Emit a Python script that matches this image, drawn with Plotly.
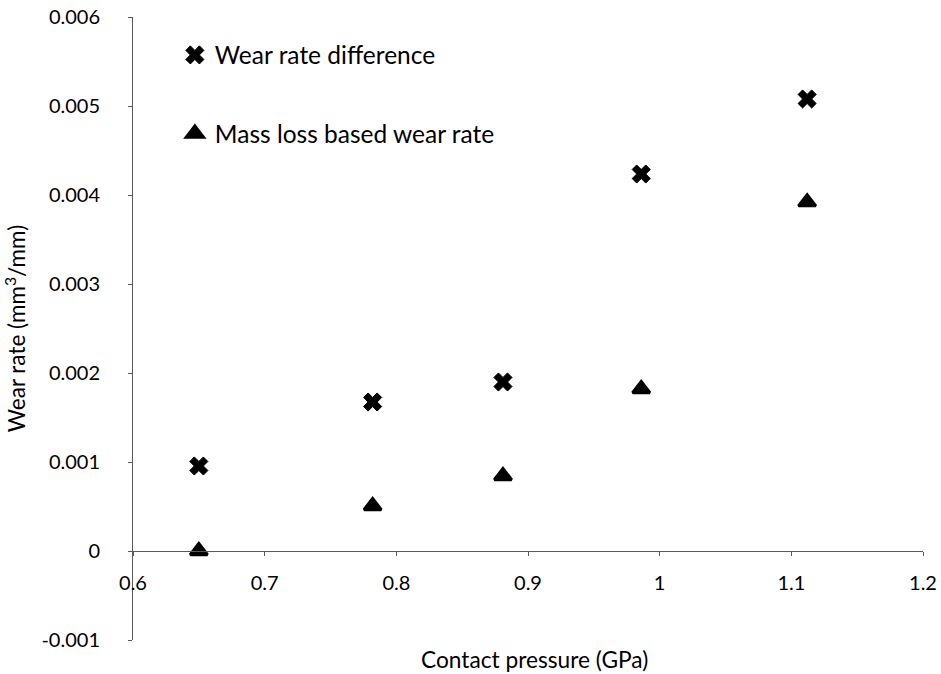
import plotly.graph_objects as go

# Contact pressure (GPa)
pressure = [0.65, 0.782, 0.881, 0.986, 1.112]

# Wear rates (mm^3/mm)
wear_rate_difference = [0.000955, 0.001674, 0.001899, 0.004236, 0.005079]
mass_loss_wear_rate = [0.0, 0.000506, 0.000843, 0.00182, 0.00392]

x_ticks = [0.6, 0.7, 0.8, 0.9, 1.0, 1.1, 1.2]
x_tick_text = ["0.6", "0.7", "0.8", "0.9", "1", "1.1", "1.2"]
y_ticks = [-0.001, 0, 0.001, 0.002, 0.003, 0.004, 0.005, 0.006]
y_tick_text = ["-0.001", "0", "0.001", "0.002", "0.003", "0.004", "0.005", "0.006"]

FONT = "Lato, 'Open Sans', sans-serif"
AXIS_COLOR = "#5a5a5a"
Y_MIN, Y_MAX = -0.001, 0.006

fig = go.Figure()

fig.add_trace(go.Scatter(
    x=pressure, y=wear_rate_difference,
    mode="markers",
    name="Wear rate difference",
    marker=dict(symbol="x", size=16, color="black",
                line=dict(color="black", width=1)),
    legend="legend",
    showlegend=True,
))

fig.add_trace(go.Scatter(
    x=pressure, y=mass_loss_wear_rate,
    mode="markers",
    name="Mass loss based wear rate",
    marker=dict(symbol="triangle-up", size=15, color="black",
                line=dict(color="black", width=3)),
    legend="legend2",
    showlegend=True,
))

legend_style = dict(
    font=dict(family=FONT, size=24.5, color="black"),
    bgcolor="rgba(0,0,0,0)",
    borderwidth=0,
    xanchor="left", yanchor="middle",
    itemsizing="trace",
    visible=True,
)

fig.update_layout(
    width=941, height=674,
    margin=dict(l=133, r=18, t=17, b=34, autoexpand=False),
    paper_bgcolor="white",
    plot_bgcolor="white",
    font=dict(family=FONT, color="black"),
    showlegend=True,
    legend=dict(x=0.053, y=0.939, **legend_style),
    legend2=dict(x=0.053, y=0.813, **legend_style),
    xaxis=dict(
        range=[0.6, 1.2],
        tickvals=x_ticks, ticktext=x_tick_text,
        anchor="free",
        position=(0 - Y_MIN) / (Y_MAX - Y_MIN),
        showline=True, linecolor=AXIS_COLOR, linewidth=1,
        ticks="outside", ticklen=4, tickcolor=AXIS_COLOR,
        ticklabelstandoff=10,
        showgrid=False, zeroline=False,
        automargin=False,
        tickfont=dict(family=FONT, size=20, color="black"),
    ),
    yaxis=dict(
        range=[Y_MIN, Y_MAX],
        tickvals=y_ticks, ticktext=y_tick_text,
        showline=True, linecolor=AXIS_COLOR, linewidth=1,
        ticks="outside", ticklen=4, tickcolor=AXIS_COLOR,
        ticklabelstandoff=24,
        showgrid=False, zeroline=False,
        automargin=False,
        tickfont=dict(family=FONT, size=20, color="black"),
        title=dict(text="Wear rate (mm<sup>3</sup>/mm)",
                   font=dict(family=FONT, size=22.5, color="black"),
                   standoff=18),
    ),
    annotations=[dict(
        text="Contact pressure (GPa)",
        xref="paper", yref="paper",
        x=(0.905 - 0.6) / 0.6, y=-0.032,
        xanchor="center", yanchor="middle",
        showarrow=False,
        font=dict(family=FONT, size=22.7, color="black"),
    )],
)

fig.write_html("out.html")
